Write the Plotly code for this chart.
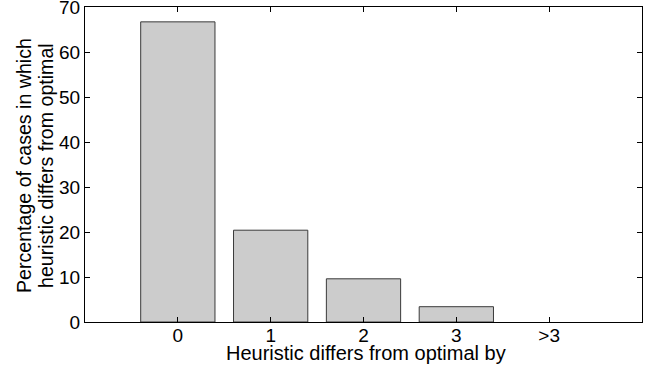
import plotly.graph_objects as go

categories = ["0", "1", "2", "3", ">3"]
positions = [0, 1, 2, 3, 4]
values = [66.7, 20.4, 9.6, 3.4, 0.0]
y_ticks = [0, 10, 20, 30, 40, 50, 60, 70]

fig = go.Figure()
fig.add_trace(go.Bar(
    x=positions, y=values, width=0.8,
    marker=dict(color="#cccccc",
                line=dict(color="#3a3a3a", width=[1 if v > 0 else 0 for v in values])),
))

fam = "Liberation Sans, Arial, Helvetica, sans-serif"
tickfont = dict(family=fam, size=19, color="#000000")
titlefont = dict(family=fam, size=20, color="#000000")
axis_common = dict(
    showline=True, linecolor="#000000", linewidth=1, mirror="ticks",
    ticks="inside", ticklen=5, tickcolor="#000000", tickwidth=1,
    showgrid=False, zeroline=False, tickfont=tickfont, automargin=False,
    ticklabeloverflow="allow",
)
L, R, T, B = 85, 23, 7, 46
W, H = 665, 368
fig.update_layout(
    width=W, height=H,
    margin=dict(l=L, r=R, t=T, b=B),
    plot_bgcolor="white", paper_bgcolor="white",
    showlegend=False,
    xaxis=dict(range=[-1, 5], tickvals=positions, ticktext=categories,
               ticklabelstandoff=-4, **axis_common),
    yaxis=dict(range=[0, 70], tickvals=y_ticks, **axis_common),
)
ph = H - T - B
pw = W - L - R
def py(pix):
    return (H - B - pix) / ph
def px(pix):
    return (pix - L) / pw
fig.add_annotation(text="Heuristic differs from optimal by", xref="paper", yref="paper",
                   x=px(366), y=py(353), xanchor="center", yanchor="middle",
                   showarrow=False, font=titlefont)
fig.add_annotation(text="Percentage of cases in which", xref="paper", yref="paper",
                   x=px(24), y=py(166), xanchor="center", yanchor="middle", textangle=-90,
                   showarrow=False, font=dict(titlefont, size=19.6))
fig.add_annotation(text="heuristic differs from optimal", xref="paper", yref="paper",
                   x=px(46), y=py(166), xanchor="center", yanchor="middle", textangle=-90,
                   showarrow=False, font=dict(titlefont, size=19.6))
fig.write_html("out.html", config={"displayModeBar": False},
               post_script="document.body.style.margin='0';document.body.style.overflow='hidden';")
